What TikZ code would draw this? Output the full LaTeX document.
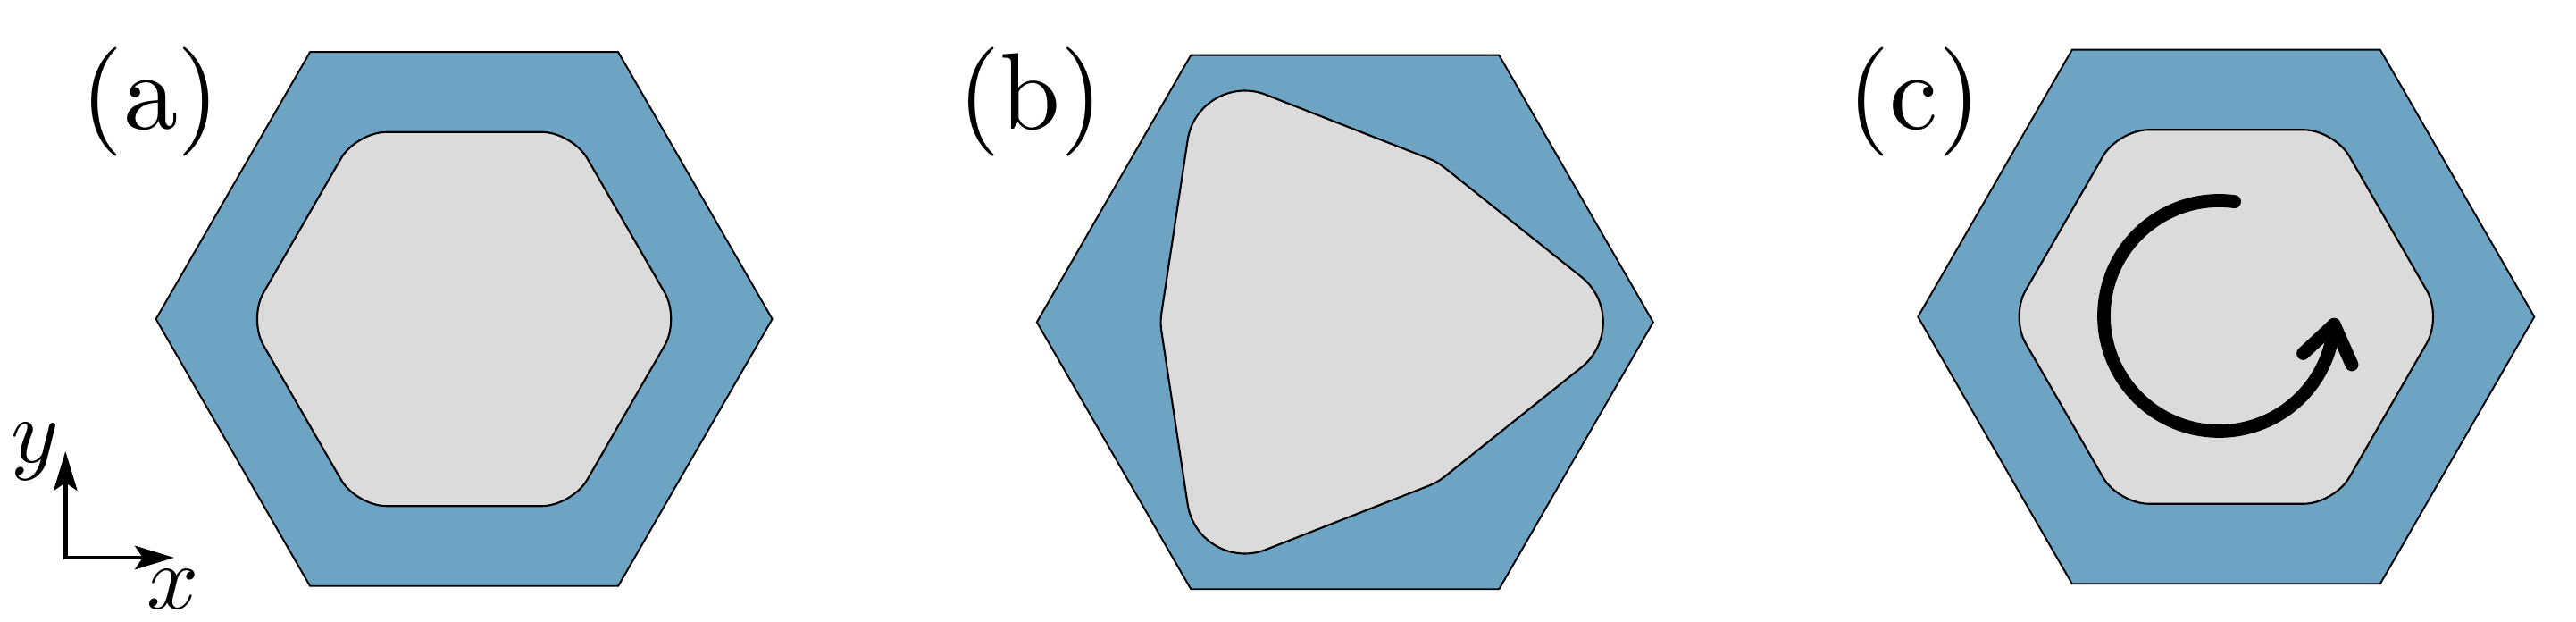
\documentclass[tikz,border=0pt]{standalone}
\usetikzlibrary{calc,arrows.meta}
\font\labfont=cmr10 at 34.7pt
\font\axfont=cmmi10 at 29pt
\definecolor{hexblue}{RGB}{110,164,195}
\definecolor{coregrey}{RGB}{219,219,219}
\tikzset{
  hexout/.style={draw=black, fill=hexblue, line width=0.55pt, line join=miter},
  hexin/.style={draw=black, fill=coregrey, line width=0.6pt},
  panellabel/.style={anchor=base, inner sep=0pt, font=\labfont},
  axlabel/.style={inner sep=0pt, font=\axfont},
  axarrow/.style={line width=1.35pt, {Stealth[length=12.5pt,width=7.5pt,inset=2.5pt]}-{Stealth[length=12.5pt,width=7.5pt,inset=2.5pt]}},
  rotarrow/.style={line width=4.2pt, line cap=round, line join=round}
}
\begin{document}
\begin{tikzpicture}
\useasboundingbox (0,0) rectangle (28.84,6.96);

% ---------- panel (a)
\begin{scope}[shift={(5.196,3.39)}]
  \draw[hexout] (0:3.45) -- (60:3.45) -- (120:3.45) -- (180:3.45) -- (240:3.45) -- (300:3.45) -- cycle;
  \draw[hexin, rounded corners=0.34cm] (90:2.0923) -- (120:2.416) -- (180:2.416) -- (240:2.416) -- (300:2.416) -- (0:2.416) -- (60:2.416) -- cycle;
\end{scope}
\node[panellabel] (la) at (1.685,5.512) {(a)};

% ---------- panel (b)
\coordinate (cb) at (15.058,3.355);
\begin{scope}[shift={(cb)}]
  \draw[hexout] (0:3.45) -- (60:3.45) -- (120:3.45) -- (180:3.45) -- (240:3.45) -- (300:3.45) -- cycle;
\end{scope}
\coordinate (B0) at ($(cb)+(0:3.28)$);
\coordinate (S1) at ($(cb)+(60:2.07)$);
\coordinate (B1) at ($(cb)+(120:3.28)$);
\coordinate (S2) at ($(cb)+(180:2.07)$);
\coordinate (B2) at ($(cb)+(240:3.28)$);
\coordinate (S3) at ($(cb)+(300:2.07)$);
\draw[hexin]
  ($(B0)!0.81cm!(S1)$)
  -- ($(S1)!0.10cm!(B0)$) .. controls ($(S1)!0.034cm!(B0)$) and ($(S1)!0.034cm!(B1)$) .. ($(S1)!0.10cm!(B1)$)
  -- ($(B1)!0.81cm!(S1)$) .. controls ($(B1)!0.396cm!(S1)$) and ($(B1)!0.396cm!(S2)$) .. ($(B1)!0.81cm!(S2)$)
  -- ($(S2)!0.10cm!(B1)$) .. controls ($(S2)!0.034cm!(B1)$) and ($(S2)!0.034cm!(B2)$) .. ($(S2)!0.10cm!(B2)$)
  -- ($(B2)!0.81cm!(S2)$) .. controls ($(B2)!0.396cm!(S2)$) and ($(B2)!0.396cm!(S3)$) .. ($(B2)!0.81cm!(S3)$)
  -- ($(S3)!0.10cm!(B2)$) .. controls ($(S3)!0.034cm!(B2)$) and ($(S3)!0.034cm!(B0)$) .. ($(S3)!0.10cm!(B0)$)
  -- ($(B0)!0.81cm!(S3)$) .. controls ($(B0)!0.396cm!(S3)$) and ($(B0)!0.396cm!(S1)$) .. ($(B0)!0.81cm!(S1)$)
  -- cycle;
\node[panellabel] (lb) at (11.533,5.512) {(b)};

% ---------- panel (c)
\begin{scope}[shift={(24.923,3.415)}]
  \draw[hexout] (0:3.45) -- (60:3.45) -- (120:3.45) -- (180:3.45) -- (240:3.45) -- (300:3.45) -- cycle;
  \draw[hexin, rounded corners=0.34cm] (90:2.0923) -- (120:2.416) -- (180:2.416) -- (240:2.416) -- (300:2.416) -- (0:2.416) -- (60:2.416) -- cycle;
\end{scope}
\node[panellabel] (lc) at (21.431,5.512) {(c)};
\coordinate (rc) at (24.845,3.425);
\draw[rotarrow] ($(rc)+(82.4:1.29)$) arc[start angle=82.4, end angle=355.7, radius=1.29] coordinate (tip);
\coordinate (barbL) at (25.785,3.005);
\coordinate (barbR) at (26.33,2.88);
\draw[rotarrow] (barbL) -- (tip) -- (barbR);

% ---------- axes
\coordinate (O) at (0.733,0.72);
\coordinate (Yt) at (0.733,1.91);
\coordinate (Xt) at (1.95,0.72);
\draw[axarrow] (Yt) -- (O) -- (Xt);
\node[axlabel] (ylab) at (0.372,1.902) {y};
\node[axlabel] (xlab) at (1.933,0.36) {x};
\end{tikzpicture}
\end{document}
